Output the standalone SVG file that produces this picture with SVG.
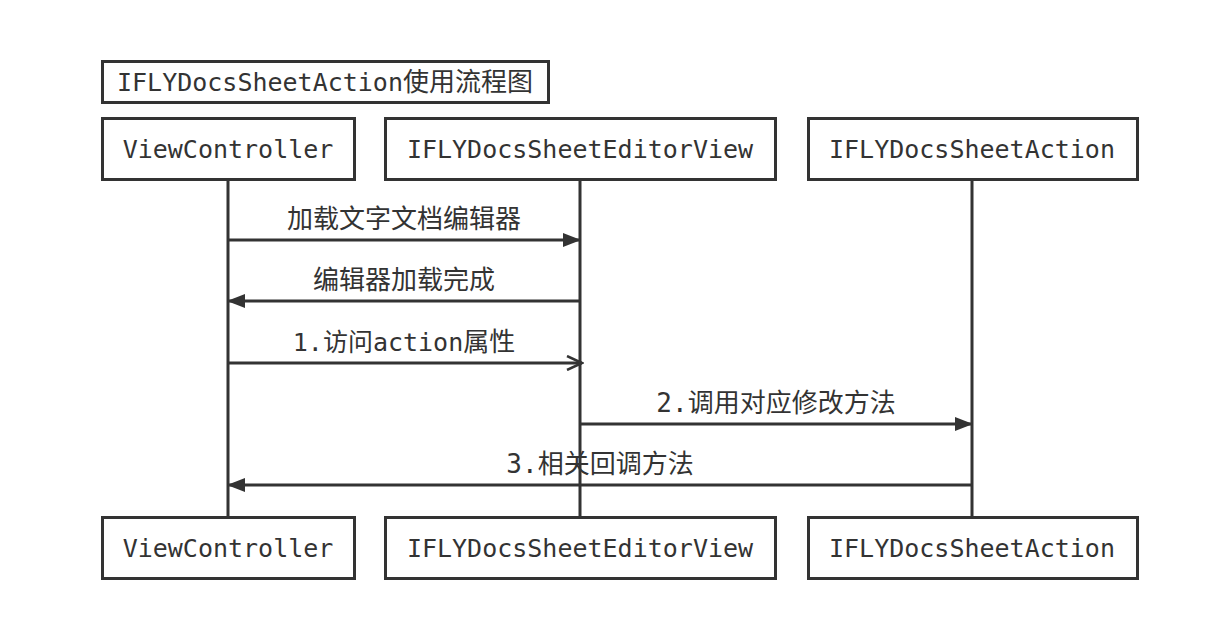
<svg xmlns="http://www.w3.org/2000/svg" width="1220" height="624" viewBox="0 0 1220 624">
<style>
.box{fill:#fff;stroke:#333;stroke-width:3}
.t{font-family:"DejaVu Sans Mono","Noto Sans CJK SC",monospace;font-size:25px;fill:#333;text-anchor:middle;dominant-baseline:central}
.m{font-size:26px}
.life{stroke:#333;stroke-width:3;fill:none}
.msg{stroke:#333;stroke-width:3;fill:none}
</style>
<defs>
<marker id="fa" markerWidth="18" markerHeight="14" refX="17" refY="7" orient="auto" markerUnits="userSpaceOnUse">
<path d="M0,0 L18,7 L0,14 Z" fill="#333"/>
</marker>
<marker id="oa" markerWidth="18" markerHeight="16" refX="16" refY="8" orient="auto" markerUnits="userSpaceOnUse">
<path d="M1,1 L16,8 L1,15" fill="none" stroke="#333" stroke-width="2.5"/>
</marker>
</defs>
<rect width="1220" height="624" fill="#fff"/>
<g id="title">
<rect class="box" x="102.5" y="61.5" width="446" height="41"/>
<text class="t" x="325" y="82">IFLYDocsSheetAction<tspan class="m">使用流程图</tspan></text>
</g>
<g id="connectors">
<line class="life" x1="228" y1="179" x2="228" y2="517"/>
<line class="life" x1="580" y1="179" x2="580" y2="517"/>
<line class="life" x1="972" y1="179" x2="972" y2="517"/>
<line class="msg" x1="228" y1="240" x2="580" y2="240" marker-end="url(#fa)"/>
<text class="t m" x="404" y="219">加载文字文档编辑器</text>
<line class="msg" x1="580" y1="301" x2="228" y2="301" marker-end="url(#fa)"/>
<text class="t m" x="404" y="280">编辑器加载完成</text>
<line class="msg" x1="228" y1="363" x2="582" y2="363" marker-end="url(#oa)"/>
<text class="t" x="404" y="342">1.访问action<tspan class="m">属性</tspan></text>
<line class="msg" x1="580" y1="424" x2="972" y2="424" marker-end="url(#fa)"/>
<text class="t m" x="776" y="403">2.调用对应修改方法</text>
<line class="msg" x1="972" y1="485" x2="228" y2="485" marker-end="url(#fa)"/>
<text class="t m" x="600" y="464">3.相关回调方法</text>
</g>
<g id="vc-top"><rect class="box" x="102.5" y="118.5" width="252" height="61"/><text class="t" x="228" y="149">ViewController</text></g>
<g id="ev-top"><rect class="box" x="385.5" y="118.5" width="390" height="61"/><text class="t" x="580" y="149">IFLYDocsSheetEditorView</text></g>
<g id="ac-top"><rect class="box" x="808.5" y="118.5" width="329" height="61"/><text class="t" x="972" y="149">IFLYDocsSheetAction</text></g>
<g id="vc-bot"><rect class="box" x="102.5" y="517.5" width="252" height="61"/><text class="t" x="228" y="548">ViewController</text></g>
<g id="ev-bot"><rect class="box" x="385.5" y="517.5" width="390" height="61"/><text class="t" x="580" y="548">IFLYDocsSheetEditorView</text></g>
<g id="ac-bot"><rect class="box" x="808.5" y="517.5" width="329" height="61"/><text class="t" x="972" y="548">IFLYDocsSheetAction</text></g>
</svg>
